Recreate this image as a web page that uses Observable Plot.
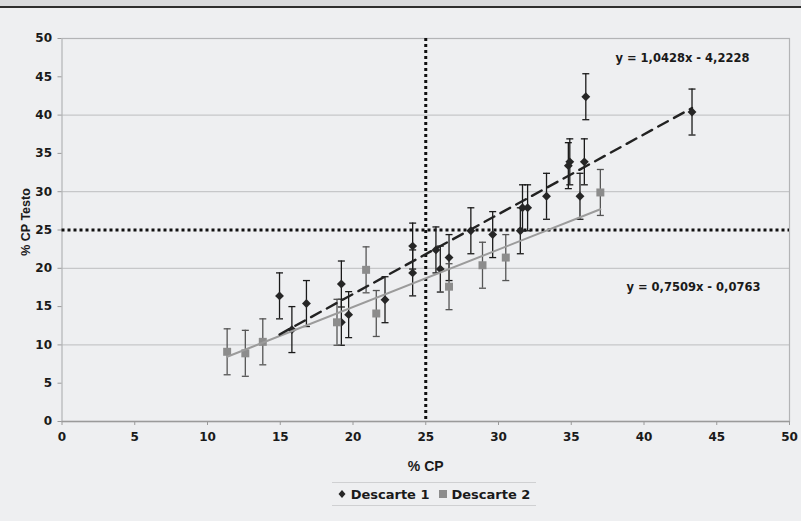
<!DOCTYPE html>
<html>
<head>
<meta charset="utf-8">
<script src="https://cdn.jsdelivr.net/npm/d3@7"></script>
<script src="https://cdn.jsdelivr.net/npm/@observablehq/plot@0.6"></script>
<style>
  html, body { margin: 0; padding: 0; background: #eeeff1; }
  body { width: 801px; height: 521px; overflow: hidden; font-family: "DejaVu Sans", sans-serif; }
  #band { height: 6px; background: #d9dadc; border-bottom: 2px solid #2e2e2e; }
  #legend { margin: 4px 0 0 332px; width: 204px; border-top: 1.5px solid #cfd0d2; border-bottom: 1.5px solid #cfd0d2;
    height: 22px; display: flex; align-items: center; justify-content: center; gap: 9px;
    font-weight: bold; font-size: 13px; color: #1a1a1a; font-family: "DejaVu Sans", sans-serif; }
  .item { display: flex; align-items: center; gap: 5px; }
</style>
</head>
<body>
<div id="band"></div>
<div id="chart"></div>
<div id="legend"></div>
<script>
// Descarte 1 (diamonds)
const d1x = [14.95, 15.8, 16.8, 19.2, 19.2, 19.7, 22.2, 24.1, 24.1, 25.7, 26.0, 26.6, 28.1, 29.6, 31.5, 31.65, 32.0, 33.3, 34.8, 34.9, 35.6, 35.9, 36.0, 43.3];
const d1y = [16.4, 12.0, 15.4, 17.95, 12.95, 13.95, 15.9, 22.9, 19.4, 22.4, 19.9, 21.4, 24.9, 24.4, 24.9, 27.9, 27.9, 29.4, 33.4, 33.9, 29.4, 33.9, 42.4, 40.4];
const d1e = [3, 3, 3, 3, 3, 3, 3, 3, 3, 3, 3, 3, 3, 3, 3, 3, 3, 3, 3, 3, 3, 3, 3, 3];
// Descarte 2 (squares)
const d2x = [11.35, 12.6, 13.8, 18.9, 20.9, 21.6, 26.6, 28.9, 30.5, 37.0];
const d2y = [9.1, 8.9, 10.4, 12.95, 19.8, 14.1, 17.6, 20.4, 21.4, 29.9];
const d2e = [3, 3, 3, 3, 3, 3, 3, 3, 3, 3];
// trend lines
const trend1 = {slope: 1.0428, intercept: -4.2228, label: "y = 1,0428x - 4,2228"};
const trend2 = {slope: 0.7509, intercept: -0.0763, label: "y = 0,7509x - 0,0763"};
// reference lines
const refX = [25];
const refY = [25];
// ticks & titles
const xTicks = [0, 5, 10, 15, 20, 25, 30, 35, 40, 45, 50];
const yTicks = [0, 5, 10, 15, 20, 25, 30, 35, 40, 45, 50];
const yGrid = [10, 20, 30, 40];
const xTitle = "% CP";
const yTitle = "% CP Testo";
const seriesNames = ["Descarte 1", "Descarte 2"];

const t1 = d1x.map((x, i) => ({x, y: d1y[i], lo: d1y[i] - d1e[i], hi: d1y[i] + d1e[i]}));
const t2 = d2x.map((x, i) => ({x, y: d2y[i], lo: d2y[i] - d2e[i], hi: d2y[i] + d2e[i]}));
const lineOf = (tr, xs) => {
  const [a, b] = d3.extent(xs);
  return [a, b].map(x => ({x, y: tr.slope * x + tr.intercept}));
};
const cap = { draw(ctx) { ctx.moveTo(-3.5, 0); ctx.lineTo(3.5, 0); } };

const c1 = "#262626", c2 = "#8c8c8c";
const dv = "'DejaVu Sans', sans-serif";
const lib = "'Liberation Sans', Arial, sans-serif";

const plot = Plot.plot({
  width: 801,
  height: 470,
  marginTop: 30,
  marginBottom: 57,
  marginLeft: 61.5,
  marginRight: 12,
  style: { background: "transparent", fontFamily: dv, fontWeight: "bold", fontSize: "12px", color: "#1a1a1a" },
  x: { domain: [0, 50] },
  y: { domain: [0, 50] },
  marks: [
    Plot.ruleY(yGrid, {stroke: "#c6c7c9", strokeWidth: 1.2}),
    Plot.frame({stroke: "#b3b4b6", strokeWidth: 1.2}),
    Plot.ruleY([0], {stroke: "#9a9a9a", strokeWidth: 1.5}),
    Plot.axisX({ticks: xTicks, tickSize: 4, tickPadding: 7, stroke: "#9a9a9a", fill: "#1a1a1a", fontFamily: dv, fontSize: 12, fontWeight: "bold", label: null}),
    Plot.axisY({ticks: yTicks, tickSize: 4, tickPadding: 6, stroke: "#9a9a9a", fill: "#1a1a1a", fontFamily: dv, fontSize: 12, fontWeight: "bold", label: null}),
    Plot.text([xTitle], {frameAnchor: "bottom", dy: 45, text: d => d, lineAnchor: "middle", fontFamily: lib, fontSize: 14, fontWeight: "bold", fill: "#1a1a1a"}),
    Plot.text([yTitle], {frameAnchor: "left", dx: -36.5, dy: -8, rotate: -90, text: d => d, lineAnchor: "middle", textAnchor: "middle", fontFamily: lib, fontSize: 12.5, fontWeight: "bold", fill: "#1a1a1a"}),
    Plot.ruleY(refY, {stroke: "#111", strokeWidth: 3, strokeDasharray: "3,3"}),
    Plot.ruleX(refX, {stroke: "#111", strokeWidth: 3, strokeDasharray: "3,3"}),
    // Descarte 1
    Plot.ruleX(t1, {x: "x", y1: "lo", y2: "hi", stroke: "#1a1a1a", strokeWidth: 1.3}),
    Plot.dot(t1, {x: "x", y: "lo", symbol: cap, fill: "none", stroke: "#1a1a1a", strokeWidth: 1.3}),
    Plot.dot(t1, {x: "x", y: "hi", symbol: cap, fill: "none", stroke: "#1a1a1a", strokeWidth: 1.3}),
    Plot.dot(t1, {x: "x", y: "y", symbol: "diamond2", r: 4, fill: c1, stroke: "none"}),
    // Descarte 2
    Plot.ruleX(t2, {x: "x", y1: "lo", y2: "hi", stroke: "#555", strokeWidth: 1.3}),
    Plot.dot(t2, {x: "x", y: "lo", symbol: cap, fill: "none", stroke: "#555", strokeWidth: 1.3}),
    Plot.dot(t2, {x: "x", y: "hi", symbol: cap, fill: "none", stroke: "#555", strokeWidth: 1.3}),
    Plot.dot(t2, {x: "x", y: "y", symbol: "square", r: 4.5, fill: c2, stroke: "none"}),
    // trend lines
    Plot.line(lineOf(trend2, d2x), {x: "x", y: "y", stroke: "#9b9b9b", strokeWidth: 2}),
    Plot.line(lineOf(trend1, d1x), {x: "x", y: "y", stroke: "#222", strokeWidth: 2.4, strokeDasharray: "11,7"}),
    Plot.text([trend1.label], {frameAnchor: "top-right", dx: -40, dy: 20, text: d => d, lineAnchor: "middle", fontFamily: dv, fontSize: 11.5, fontWeight: "bold", fill: "#1a1a1a", textAnchor: "end"}),
    Plot.text([trend2.label], {frameAnchor: "right", dx: -29, dy: 57.5, text: d => d, lineAnchor: "middle", fontFamily: dv, fontSize: 11.5, fontWeight: "bold", fill: "#1a1a1a", textAnchor: "end"})
  ]
});
document.getElementById("chart").appendChild(plot);

// legend
const leg = document.getElementById("legend");
const sym = [
  '<svg width="8" height="10"><path d="M4 1 L7.5 5 L4 9 L0.5 5 Z" fill="' + c1 + '"/></svg>',
  '<svg width="8" height="10"><rect x="0" y="1" width="8" height="8" fill="' + c2 + '"/></svg>'
];
seriesNames.forEach((n, i) => {
  const s = document.createElement("span");
  s.className = "item";
  s.innerHTML = sym[i] + "<span>" + n + "</span>";
  leg.appendChild(s);
});
</script>
</body>
</html>
